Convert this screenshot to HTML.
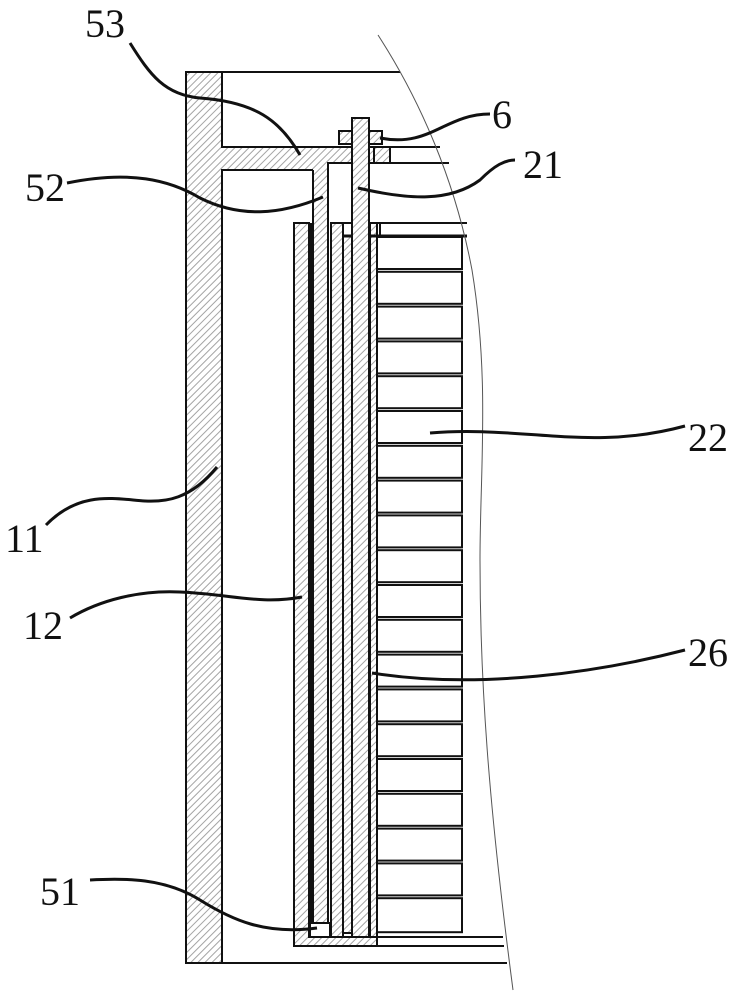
<!DOCTYPE html>
<html><head><meta charset="utf-8"><style>
html,body{margin:0;padding:0;background:#fff;width:743px;height:1000px;overflow:hidden}
svg{display:block}
text{font-family:"Liberation Serif",serif;font-size:40px;fill:#111}
</style></head><body>
<svg width="743" height="1000" viewBox="0 0 743 1000" xmlns="http://www.w3.org/2000/svg">
<defs>
<pattern id="h" patternUnits="userSpaceOnUse" width="5" height="5" patternTransform="rotate(45)">
<rect width="5" height="5" fill="#fff"/><line x1="0.5" y1="0" x2="0.5" y2="5" stroke="#9a9a9a" stroke-width="0.9"/>
</pattern>
</defs>
<g stroke="#111" stroke-width="2" fill="none">
<line x1="222" y1="72" x2="400" y2="72"/>
<line x1="222" y1="963" x2="507" y2="963"/>
<path d="M186,72 H222 V147 H374 V163 H328 V923 H313 V170 H222 V963 H186 Z" fill="url(#h)"/>
<rect x="313" y="165" width="15" height="758" fill="url(#h)" stroke="none"/>
<path d="M313,170 V923 H328 V163" />
<rect x="374" y="147" width="16" height="16" fill="url(#h)"/>
<line x1="390" y1="147" x2="440" y2="147"/>
<line x1="390" y1="163" x2="449" y2="163"/>
<rect x="310" y="923" width="20" height="14" fill="#fff"/>
<path d="M294,223 H309 V937 H370 V223 H377 V946 H294 Z" fill="url(#h)"/>
<line x1="311" y1="223" x2="311" y2="923" stroke-width="3"/>
<line x1="377" y1="946" x2="504" y2="946"/>
<line x1="370" y1="937" x2="503" y2="937"/>
<rect x="331" y="223" width="12" height="714" fill="url(#h)"/>
<rect x="343" y="236" width="9" height="697" fill="url(#h)"/>
<line x1="343" y1="223" x2="467" y2="223"/>
<line x1="343" y1="236" x2="467" y2="236" stroke-width="3"/>
<line x1="380" y1="223" x2="380" y2="236"/>
<line x1="343" y1="223" x2="343" y2="236"/>
<rect x="352" y="118" width="17" height="819" fill="url(#h)"/>
<rect x="339" y="131" width="13" height="13" fill="url(#h)"/>
<rect x="369" y="131" width="13" height="13" fill="url(#h)"/>
</g>
<g stroke="#111" stroke-width="2" fill="#fff">
<rect x="377" y="237" width="85" height="32"/>
<rect x="377" y="271.8" width="85" height="32"/>
<rect x="377" y="306.6" width="85" height="32"/>
<rect x="377" y="341.4" width="85" height="32"/>
<rect x="377" y="376.2" width="85" height="32"/>
<rect x="377" y="411" width="85" height="32"/>
<rect x="377" y="445.8" width="85" height="32"/>
<rect x="377" y="480.6" width="85" height="32"/>
<rect x="377" y="515.4" width="85" height="32"/>
<rect x="377" y="550.2" width="85" height="32"/>
<rect x="377" y="585" width="85" height="32"/>
<rect x="377" y="619.8" width="85" height="32"/>
<rect x="377" y="654.6" width="85" height="32"/>
<rect x="377" y="689.4" width="85" height="32"/>
<rect x="377" y="724.2" width="85" height="32"/>
<rect x="377" y="759" width="85" height="32"/>
<rect x="377" y="793.8" width="85" height="32"/>
<rect x="377" y="828.6" width="85" height="32"/>
<rect x="377" y="863.4" width="85" height="32"/>
<rect x="377" y="898.2" width="85" height="34"/>
</g>
<path d="M378,35 C420,100 455,180 472,270 C490,380 480,470 480,560 C480,680 488,800 513,990" stroke="#555" stroke-width="1" fill="none"/>
<g stroke="#111" stroke-width="3" fill="none">
<path d="M130,43 C150,75 165,95 200,98 C255,102 280,120 300,155"/>
<path d="M380,138 C430,148 445,114 490,114"/>
<path d="M67,183 C130,170 170,180 200,198 C240,218 280,215 323,197"/>
<path d="M358,188 C410,200 450,202 480,180 C495,165 505,160 515,160"/>
<path d="M430,433 C520,425 590,452 685,426"/>
<path d="M217,467 C190,500 165,502 145,501 C115,499 80,490 46,525"/>
<path d="M302,597 C260,605 230,594 180,592 C140,590 100,600 70,618"/>
<path d="M372,673 C480,690 600,672 685,650"/>
<path d="M317,928 C265,935 232,920 200,900 C165,878 125,878 90,880"/>
</g>
<g>
<text x="85" y="37">53</text>
<text x="492" y="128">6</text>
<text x="523" y="178">21</text>
<text x="25" y="201">52</text>
<text x="688" y="451">22</text>
<text x="5" y="552">11</text>
<text x="23" y="639">12</text>
<text x="688" y="666">26</text>
<text x="40" y="905">51</text>
</g>
</svg>
</body></html>
